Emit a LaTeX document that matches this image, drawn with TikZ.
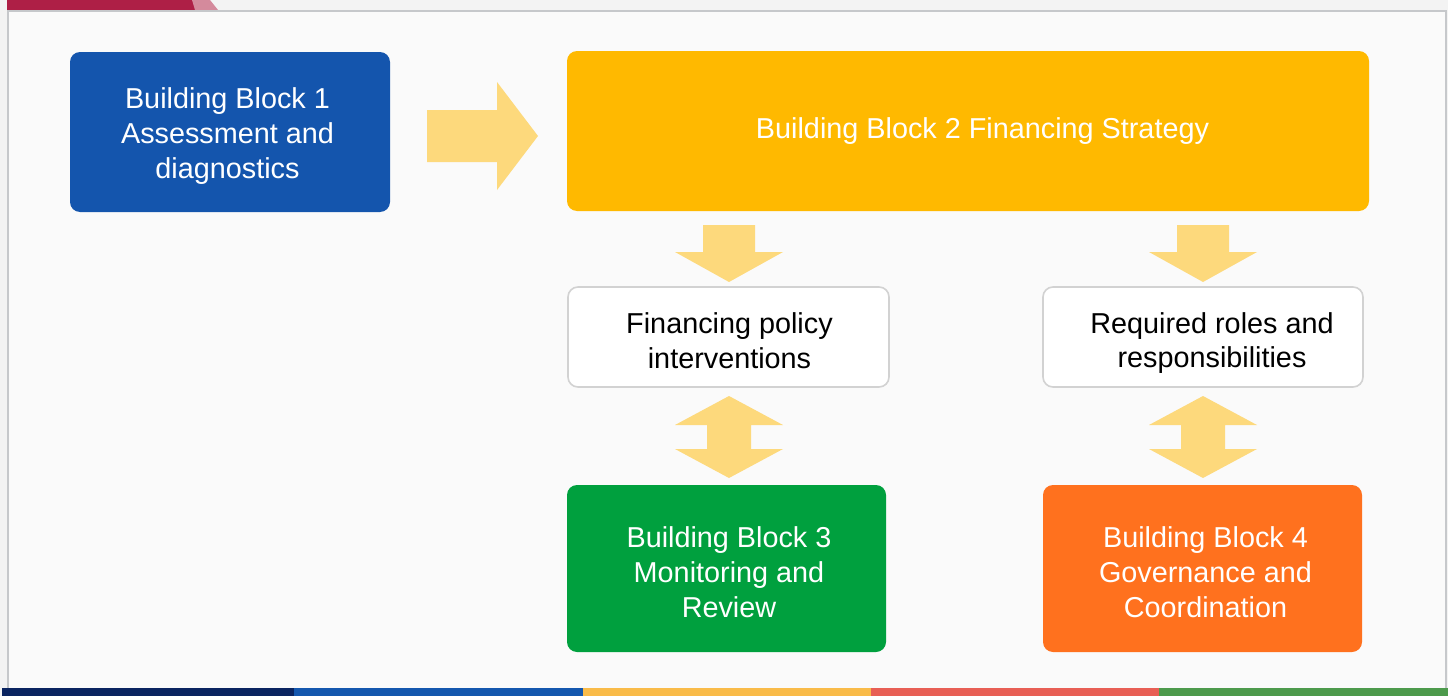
\documentclass[tikz,border=0pt]{standalone}
\usepackage{fontspec}
\setmainfont{Liberation Sans}
\definecolor{bbblue}{HTML}{1455AD}
\definecolor{bbyellow}{HTML}{FFB900}
\definecolor{bbgreen}{HTML}{00A03E}
\definecolor{bborange}{HTML}{FF711E}
\definecolor{arrowc}{HTML}{FDD97C}
\definecolor{panel}{HTML}{FAFAFA}
\definecolor{outer}{HTML}{F3F3F3}
\definecolor{frame}{HTML}{C6C8CB}
\definecolor{crimson}{HTML}{AE1F46}
\definecolor{pinkc}{HTML}{D48A9C}
\definecolor{navy}{HTML}{0A2460}
\definecolor{barblue}{HTML}{1457AE}
\definecolor{baryellow}{HTML}{F9BB49}
\definecolor{barred}{HTML}{E85F55}
\definecolor{bargreen}{HTML}{4D9A4C}
\definecolor{boxline}{HTML}{D2D2D2}
\tikzset{
  block/.style={rounded corners=5pt, text=white, align=center, inner sep=0pt,
    font=\fontsize{14.4}{17.4}\selectfont},
  wbox/.style={rounded corners=5pt, draw=boxline, line width=0.8pt, fill=white, text=black,
    align=center, inner sep=0pt, font=\fontsize{14.4}{17.4}\selectfont},
  barrow/.style={fill=arrowc, draw=none},
}
\begin{document}
\begin{tikzpicture}[x=0.5pt,y=-0.5pt]
\useasboundingbox (0,0) rectangle (1448,696);
\fill[outer] (0,0) rectangle (1448,696);
% top strip
\fill[crimson] (7,0) rectangle (195,10);
\fill[pinkc] (192,0) -- (210,0) -- (218,10) -- (195,10) -- cycle;
% panel
\fill[panel] (7,10) rectangle (1446,688);
\draw[frame, line width=1pt] (7.5,688) -- (7.5,10.5) -- (1445.5,10.5) -- (1445.5,688);
% bottom bar
\fill[navy] (2,688) rectangle (294,696);
\fill[barblue] (294,688) rectangle (583,696);
\fill[baryellow] (583,688) rectangle (871,696);
\fill[barred] (871,688) rectangle (1159,696);
\fill[bargreen] (1159,688) rectangle (1448,696);

% blocks
\node[block, fill=bbblue, minimum width=160pt, minimum height=80pt] (bb1) at (230,132) {};
\node[block, align=center] at ([xshift=-1.25pt,yshift=-2pt]bb1.center)
  {Building Block 1\\Assessment and\\diagnostics};
\node[block, fill=bbyellow, minimum width=401pt, minimum height=80pt] (bb2) at (968,131) {};
\node[block] at ([xshift=7.25pt]bb2.center) {Building Block 2 Financing Strategy};
\node[wbox, minimum width=160.5pt, minimum height=50pt] (fpi) at (728.5,337) {};
\node[block, text=black] at ([xshift=0.5pt,yshift=-1.7pt]fpi.center)
  {Financing policy\\interventions};
\node[wbox, minimum width=160pt, minimum height=50pt] (rrr) at (1203,337) {};
\node[block, text=black] at ([xshift=4.5pt,yshift=-3pt]rrr.center)
  {Required roles and\\responsibilities};
\node[block, fill=bbgreen, minimum width=159.5pt, minimum height=83.5pt] (bb3) at (726.5,568.5) {};
\node[block] at ([xshift=1.25pt,yshift=-1.75pt]bb3.center)
  {Building Block 3\\Monitoring and\\Review};
\node[block, fill=bborange, minimum width=159.5pt, minimum height=83.5pt] (bb4) at (1202.5,568.5) {};
\node[block] at ([xshift=1.5pt,yshift=-1.75pt]bb4.center)
  {Building Block 4\\Governance and\\Coordination};

% right arrow
\fill[barrow] (427,110) -- (497,110) -- (497,82) -- (538,136) -- (497,190) -- (497,162) -- (427,162) -- cycle;
% down arrows
\foreach \cx in {729,1203}{
  \fill[barrow] (\cx-26,225) -- (\cx+26,225) -- (\cx+26,252) -- (\cx+54,252) -- (\cx,282)
     -- (\cx-54,252) -- (\cx-26,252) -- cycle;
  \fill[barrow] (\cx,396) -- (\cx+54,425) -- (\cx+22,425) -- (\cx+22,449) -- (\cx+54,449)
     -- (\cx,478) -- (\cx-54,449) -- (\cx-22,449) -- (\cx-22,425) -- (\cx-54,425) -- cycle;
}
\end{tikzpicture}
\end{document}
